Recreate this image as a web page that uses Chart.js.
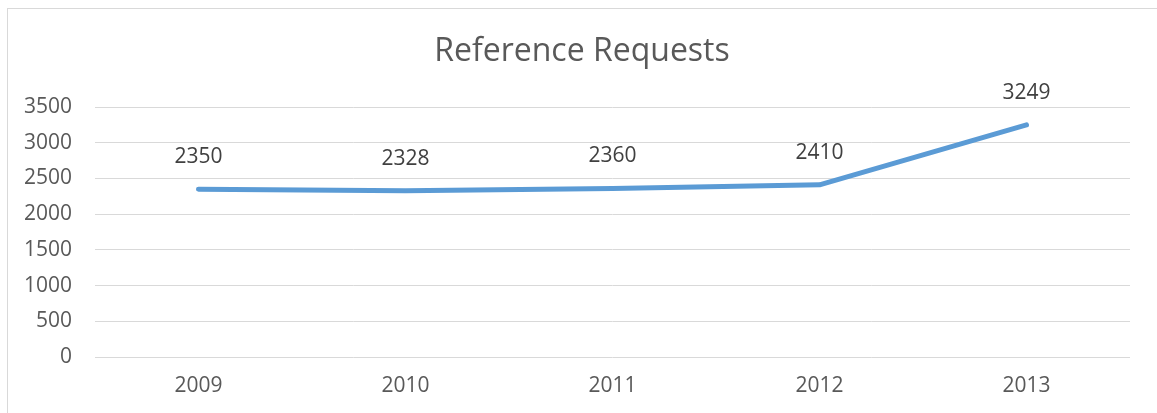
<!DOCTYPE html>
<html>
<head>
<meta charset="utf-8">
<script src="https://cdn.jsdelivr.net/npm/chart.js@4/dist/chart.umd.min.js"></script>
<style>
  html, body { margin: 0; padding: 0; background: #ffffff; }
  #wrap { position: relative; width: 1157px; height: 413px; }
  canvas { display: block; }
</style>
</head>
<body>
<div id="wrap"><canvas id="c" width="1157" height="413"></canvas></div>
<script>
const title = "Reference Requests";
const categories = ["2009", "2010", "2011", "2012", "2013"];
const requests = [2350, 2328, 2360, 2410, 3249];
const yTicks = [0, 500, 1000, 1500, 2000, 2500, 3000, 3500];

const FONT = "'Open Sans', 'Liberation Sans', sans-serif";

const borderPlugin = {
  id: 'outerBorder',
  beforeDraw(chart) {
    const ctx = chart.ctx;
    ctx.save();
    ctx.strokeStyle = '#d9d9d9';
    ctx.lineWidth = 1;
    ctx.strokeRect(7.5, 8.5, 1170, 420);
    ctx.restore();
  }
};

const labelPlugin = {
  id: 'valueLabels',
  afterDatasetsDraw(chart) {
    const ctx = chart.ctx;
    const meta = chart.getDatasetMeta(0);
    const data = chart.data.datasets[0].data;
    ctx.save();
    ctx.fillStyle = '#404040';
    ctx.font = "21px " + FONT;
    ctx.textAlign = 'center';
    ctx.textBaseline = 'middle';
    meta.data.forEach((pt, i) => {
      ctx.fillText(String(data[i]), pt.x, pt.y - 32);
    });
    ctx.restore();
  }
};

new Chart(document.getElementById('c'), {
  type: 'line',
  data: {
    labels: categories,
    datasets: [{
      label: title,
      data: requests,
      borderColor: '#5b9bd5',
      borderWidth: 5,
      borderCapStyle: 'round',
      borderJoinStyle: 'round',
      pointRadius: 0,
      pointHoverRadius: 0,
      tension: 0,
      fill: false
    }]
  },
  options: {
    responsive: false,
    animation: false,
    devicePixelRatio: 1,
    layout: { padding: { left: 7, right: 0, top: 8, bottom: 0 } },
    plugins: {
      legend: { display: false },
      tooltip: { enabled: false },
      title: {
        display: true,
        text: title,
        color: '#595959',
        font: { family: FONT, size: 32, weight: 'normal', lineHeight: 1.2 },
        padding: { top: 25, bottom: 35.6 }
      }
    },
    scales: {
      x: {
        offset: true,
        grid: { display: false, drawTicks: false },
        border: { display: false },
        ticks: { color: '#595959', font: { family: FONT, size: 21 }, padding: 16 },
        afterFit(scale) { scale.height = 56; }
      },
      y: {
        min: 0,
        max: 3500,
        afterBuildTicks(scale) { scale.ticks = yTicks.map(v => ({ value: v })); },
        grid: { color: '#d9d9d9', lineWidth: 1, drawTicks: false },
        border: { display: false },
        ticks: {
          color: '#595959',
          font: { family: FONT, size: 21 },
          padding: 23,
          callback: (v) => String(v)
        },
        afterFit(scale) { scale.width = 88; }
      },
      yRight: {
        position: 'right',
        display: true,
        min: 0,
        max: 3500,
        grid: { display: false, drawTicks: false },
        border: { display: false },
        ticks: { display: false },
        afterFit(scale) { scale.width = 27; }
      }
    }
  },
  plugins: [borderPlugin, labelPlugin]
});
</script>
</body>
</html>
